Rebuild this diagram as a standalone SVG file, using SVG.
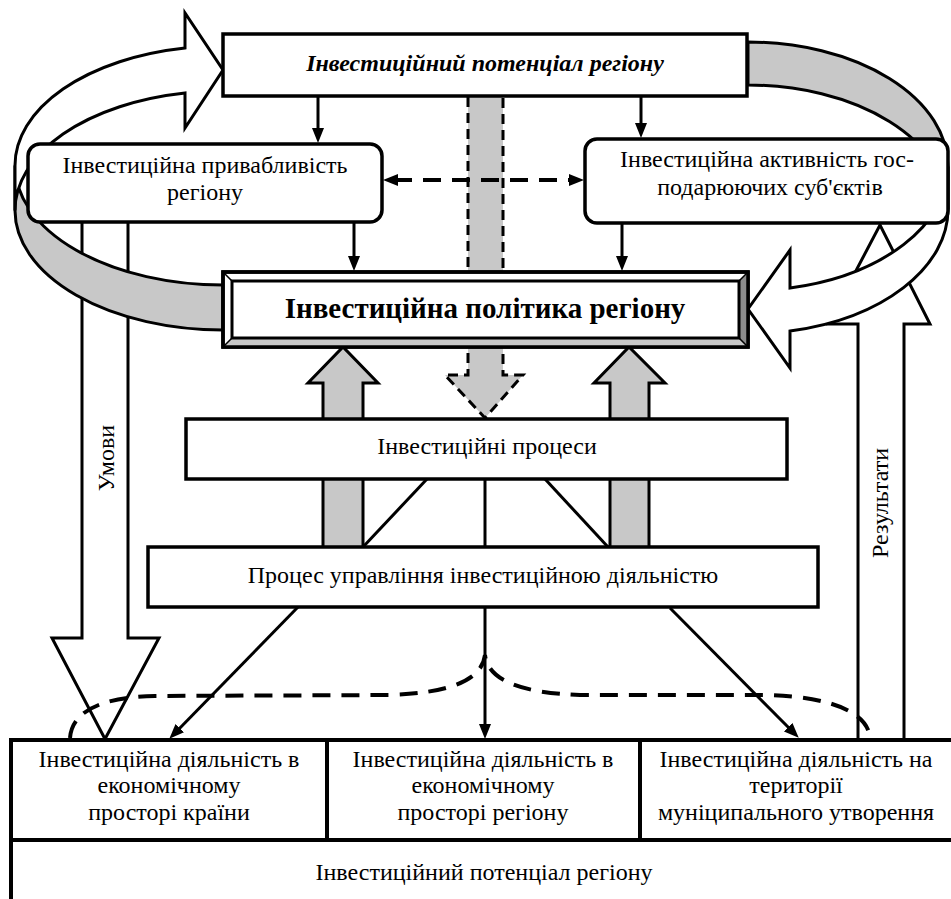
<svg xmlns="http://www.w3.org/2000/svg" width="951" height="899" viewBox="0 0 951 899">
<defs>
<style>
.t{font-family:"Liberation Serif","Times New Roman",serif;font-size:24px;fill:#000}
.m{text-anchor:middle}
.ti{font-weight:bold;font-style:italic}
.tb{font-weight:bold;font-size:29px}
.box{fill:#fff;stroke:#000;stroke-width:3.5}
.blk{fill:#fff;stroke:#000;stroke-width:3;stroke-linejoin:miter}
.gray{fill:#c8c8c8;stroke:#000;stroke-width:3;stroke-linejoin:miter}
.ln{fill:none;stroke:#000;stroke-width:3}
.dash{fill:none;stroke:#000;stroke-width:4;stroke-dasharray:18 11}
</style>
<marker id="ah" markerUnits="userSpaceOnUse" markerWidth="16" markerHeight="14" refX="4" refY="6" orient="auto-start-reverse">
<path d="M0,0 L15,6 L0,12 Z" fill="#000"/>
</marker>
</defs>
<rect width="951" height="899" fill="#fff"/>

<g id="block-arrows">
<path id="arrow-umovy" class="blk" d="M82,222 L82,638 L52,638 L105,739 L159,638 L128,638 L128,222"/>
<g id="curved-left">
<path class="gray" d="M15,165.5 A208,119.5 0 0 0 223,285 L223,330 A208,119.5 0 0 1 15,210.5 Z"/>
<path class="blk" d="M185,48 A208,119.5 0 0 0 15,165.5 L15,210.5 A208,119.5 0 0 1 185,93 L185,128 L223,70 L185,13 Z"/>
</g>
<path id="arrow-rezultaty" class="blk" d="M858,740 L858,324 L828,324 L880,225 L930,324 L904,324 L904,740"/>
<g id="curved-right">
<path class="gray" d="M748,42 A200,124.4 0 0 1 948,166.4 L948,209.4 A200,124.4 0 0 0 748,85 Z"/>
<path class="blk" d="M948,166.4 A200,124.4 0 0 1 790,288 L790,250 L748,309 L790,368 L790,331 A200,124.4 0 0 0 948,209.4 Z"/>
</g>
<path id="arrow-center" d="M468,97 L468,375 L445,375 L485,418 L523,375 L503,375 L503,97" fill="#c8c8c8" stroke="#000" stroke-width="3" stroke-dasharray="10 6"/>
<path id="arrow-up-left" class="gray" d="M323,547 L323,383 L308,383 L343,347 L378,383 L363,383 L363,547"/>
<path id="arrow-up-right" class="gray" d="M610,547 L610,383 L594,383 L629,347 L665,383 L649,383 L649,547"/>
</g>

<g id="node-potential-top">
<rect class="box" x="223" y="34" width="524" height="62"/>
<text class="t m ti" x="485" y="71">Інвестиційний потенціал регіону</text>
</g>

<g id="node-attractiveness">
<rect class="box" x="28" y="144" width="354" height="78" rx="12"/>
<text class="t m" x="205" y="173">Інвестиційна привабливість</text>
<text class="t m" x="205" y="200">регіону</text>
</g>

<g id="node-activity">
<rect class="box" x="585" y="139" width="363" height="84" rx="12"/>
<text class="t m" x="767" y="167">Інвестиційна активність гос-</text>
<text class="t m" x="770" y="195">подарюючих суб'єктів</text>
</g>

<g id="node-policy">
<rect x="223" y="272" width="525" height="75" fill="#fff" stroke="#000" stroke-width="3.5"/>
<polygon points="739,281 748,272 748,347 739,338" fill="#8c8c8c"/>
<polygon points="232,338 739,338 748,347 223,347" fill="#c8c8c8"/>
<rect x="223" y="272" width="525" height="75" fill="none" stroke="#000" stroke-width="3.5"/>
<rect x="232" y="281" width="507" height="57" fill="none" stroke="#000" stroke-width="3"/>
<path d="M223,272 L232,281 M748,272 L739,281 M223,347 L232,338 M748,347 L739,338" stroke="#000" stroke-width="1.5"/>
<text class="t m tb" x="485" y="318">Інвестиційна політика регіону</text>
</g>

<g id="node-processes">
<rect class="box" x="186" y="419" width="601" height="60"/>
<text class="t m" x="487" y="454">Інвестиційні процеси</text>
</g>

<g id="node-management">
<rect class="box" x="148" y="547" width="670" height="60"/>
<text class="t m" x="483" y="583">Процес управління інвестиційною діяльністю</text>
</g>

<g id="node-table">
<path d="M11,899 L11,740 L951,740 M11,840 L951,840 M327,740 L327,840 M640,740 L640,840" fill="none" stroke="#000" stroke-width="4"/>
<text class="t m" x="169" y="767">Інвестиційна діяльність в</text>
<text class="t m" x="169" y="793">економічному</text>
<text class="t m" x="169" y="820">просторі країни</text>
<text class="t m" x="483" y="767">Інвестиційна діяльність в</text>
<text class="t m" x="483" y="793">економічному</text>
<text class="t m" x="483" y="820">просторі регіону</text>
<text class="t m" x="796" y="767">Інвестиційна діяльність на</text>
<text class="t m" x="796" y="793">території</text>
<text class="t m" x="796" y="820">муніципального утворення</text>
<text class="t m" x="484" y="880">Інвестиційний потенціал регіону</text>
</g>

<g id="labels">
<text class="t m" transform="translate(114,458) rotate(-90)">Умови</text>
<text class="t m" transform="translate(888,503) rotate(-90)">Результати</text>
</g>

<g id="connectors">
<line class="ln" x1="318" y1="97" x2="318" y2="132" marker-end="url(#ah)"/>
<line class="ln" x1="641" y1="97" x2="641" y2="127" marker-end="url(#ah)"/>
<line class="ln" x1="354" y1="222" x2="354" y2="260" marker-end="url(#ah)"/>
<line class="ln" x1="622" y1="223" x2="622" y2="260" marker-end="url(#ah)"/>
<line class="dash" x1="394" y1="180" x2="573" y2="180" stroke-dasharray="20 12" marker-start="url(#ah)" marker-end="url(#ah)"/>
<line class="ln" x1="427" y1="479" x2="363" y2="547"/>
<line class="ln" x1="485" y1="479" x2="485" y2="547"/>
<line class="ln" x1="545" y1="479" x2="608" y2="547"/>
<line class="ln" x1="298" y1="607" x2="177" y2="731" marker-end="url(#ah)"/>
<line class="ln" x1="485" y1="607" x2="485" y2="728" marker-end="url(#ah)"/>
<line class="ln" x1="670" y1="608" x2="791" y2="730" marker-end="url(#ah)"/>
<path class="dash" d="M70,738 C72,712 100,697 155,696 L390,695 C450,693 482,680 485,655 C488,680 520,693 580,695 L770,695 C830,697 868,712 870,738"/>
</g>
</svg>
